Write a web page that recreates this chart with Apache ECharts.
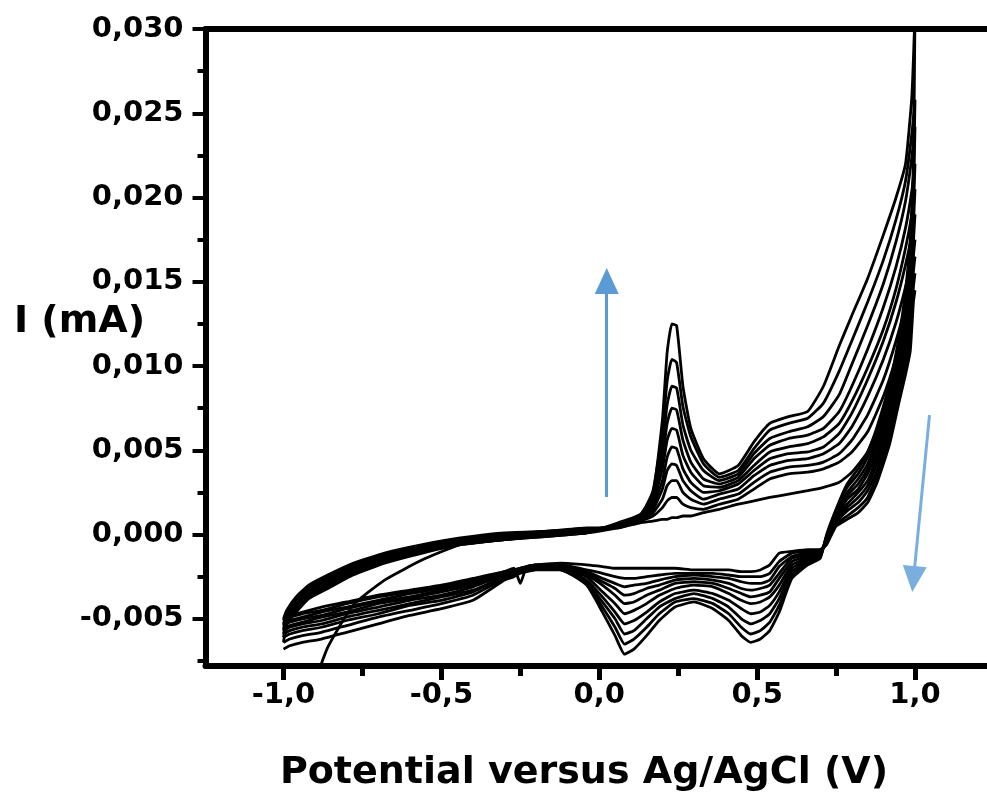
<!DOCTYPE html>
<html>
<head>
<meta charset="utf-8">
<script src="https://cdn.jsdelivr.net/npm/echarts@6.0.0/dist/echarts.min.js"></script>
<style>html,body{margin:0;padding:0;background:#fff;}#chart{width:987px;height:793px;}</style>
</head>
<body>
<div id="chart"></div>
<script>
// Potentials (V) of the forward (anodic) and reverse (cathodic) sweeps
const EF = [-1.0, -0.99, -0.96, -0.92, -0.86, -0.78, -0.68, -0.56, -0.44, -0.3, -0.16, -0.04, 0.06, 0.13, 0.17, 0.2, 0.215, 0.23, 0.245, 0.265, 0.29, 0.33, 0.38, 0.44, 0.49, 0.54, 0.6, 0.66, 0.71, 0.76, 0.8, 0.85, 0.9, 0.94, 0.97, 0.99, 1.0];
const ER = [1.0, 0.995, 0.985, 0.97, 0.95, 0.92, 0.88, 0.85, 0.82, 0.785, 0.75, 0.72, 0.7, 0.66, 0.61, 0.57, 0.54, 0.51, 0.48, 0.45, 0.41, 0.36, 0.3, 0.24, 0.19, 0.15, 0.11, 0.08, 0.05, 0.01, -0.04, -0.12, -0.2, -0.23, -0.25, -0.27, -0.3, -0.4, -0.5, -0.6, -0.7, -0.8, -0.88, -0.94, -0.98, -1.0];

// Currents (mA), one forward and one reverse sweep per cycle
const fwd0 = [null, null, null, -0.0098, -0.0067, -0.0042, -0.0027, -0.0015, -0.0006, -0.0003, -0.0001, 0.0001, 0.0004, 0.0007, 0.0008, 0.0009, 0.0009, 0.001, 0.001, 0.0011, 0.0011, 0.0013, 0.0015, 0.0018, 0.002, 0.0022, 0.0024, 0.0026, 0.0028, 0.0031, 0.0037, 0.0049, 0.0072, 0.0096, 0.0117, 0.0134, 0.0145];
const fwd1 = [-0.005, -0.0045, -0.0037, -0.003, -0.0024, -0.0017, -0.0011, -0.0006, -0.0002, 0.0001, 0.0002, 0.0004, 0.0004, 0.0008, 0.0011, 0.0016, 0.002, 0.0022, 0.0022, 0.0018, 0.0016, 0.0015, 0.0018, 0.0021, 0.0027, 0.0033, 0.0036, 0.0037, 0.0039, 0.0043, 0.0049, 0.0061, 0.0082, 0.0105, 0.0126, 0.0143, 0.0155];
const fwd2 = [-0.0051, -0.0046, -0.0038, -0.0031, -0.0025, -0.0018, -0.0012, -0.0007, -0.0003, 0, 0.0002, 0.0003, 0.0005, 0.0008, 0.0013, 0.0021, 0.0029, 0.0032, 0.0032, 0.0025, 0.0021, 0.0018, 0.0021, 0.0024, 0.0031, 0.0037, 0.004, 0.0041, 0.0043, 0.0048, 0.0056, 0.0071, 0.0092, 0.0115, 0.0136, 0.0153, 0.0165];
const fwd3 = [-0.0053, -0.0047, -0.0039, -0.0032, -0.0026, -0.0019, -0.0013, -0.0007, -0.0003, 0, 0.0002, 0.0003, 0.0005, 0.0009, 0.0015, 0.0027, 0.0038, 0.0042, 0.0041, 0.0032, 0.0026, 0.0021, 0.0024, 0.0027, 0.0035, 0.0041, 0.0044, 0.0045, 0.0048, 0.0054, 0.0064, 0.0082, 0.0104, 0.0126, 0.0147, 0.0164, 0.0175];
const fwd4 = [-0.0054, -0.0048, -0.0041, -0.0033, -0.0027, -0.002, -0.0013, -0.0008, -0.0004, -0.0001, 0.0001, 0.0003, 0.0005, 0.0009, 0.0017, 0.0032, 0.0046, 0.0052, 0.0051, 0.0039, 0.0031, 0.0025, 0.0026, 0.003, 0.0038, 0.0045, 0.0048, 0.0049, 0.0052, 0.006, 0.0072, 0.0092, 0.0115, 0.0138, 0.016, 0.0178, 0.019];
const fwd5 = [-0.0056, -0.0049, -0.0042, -0.0034, -0.0028, -0.0021, -0.0014, -0.0009, -0.0004, -0.0001, 0.0001, 0.0002, 0.0005, 0.001, 0.0019, 0.0039, 0.0056, 0.0063, 0.0062, 0.0047, 0.0037, 0.0029, 0.0028, 0.0032, 0.0041, 0.0049, 0.0052, 0.0054, 0.0058, 0.0066, 0.0079, 0.0099, 0.0122, 0.0146, 0.017, 0.019, 0.0205];
const fwd6 = [-0.0057, -0.005, -0.0043, -0.0035, -0.0029, -0.0021, -0.0015, -0.0009, -0.0005, -0.0002, 0, 0.0002, 0.0006, 0.001, 0.0021, 0.0045, 0.0066, 0.0075, 0.0074, 0.0056, 0.0043, 0.0033, 0.003, 0.0034, 0.0045, 0.0053, 0.0057, 0.0059, 0.0063, 0.0073, 0.0088, 0.011, 0.0135, 0.0159, 0.0182, 0.0204, 0.022];
const fwd7 = [-0.0059, -0.0051, -0.0044, -0.0036, -0.003, -0.0022, -0.0016, -0.001, -0.0005, -0.0002, 0, 0.0002, 0.0006, 0.0011, 0.0023, 0.0052, 0.0077, 0.0088, 0.0087, 0.0065, 0.005, 0.0038, 0.0032, 0.0036, 0.0048, 0.0057, 0.0061, 0.0064, 0.007, 0.0083, 0.0101, 0.0124, 0.0149, 0.0174, 0.0198, 0.0224, 0.0242];
const fwd8 = [-0.0061, -0.0052, -0.0045, -0.0037, -0.0031, -0.0023, -0.0016, -0.001, -0.0006, -0.0003, 0, 0.0001, 0.0006, 0.0011, 0.0026, 0.0061, 0.0091, 0.0104, 0.0102, 0.0076, 0.0058, 0.0042, 0.0034, 0.0038, 0.0051, 0.0062, 0.0066, 0.0069, 0.0078, 0.0097, 0.0115, 0.0138, 0.0163, 0.0187, 0.021, 0.0238, 0.0258];
const fwd9 = [-0.0064, -0.0053, -0.0046, -0.0038, -0.0032, -0.0024, -0.0017, -0.0011, -0.0006, -0.0003, -0.0001, 0.0001, 0.0007, 0.0012, 0.0024, 0.0068, 0.0108, 0.0125, 0.0124, 0.0088, 0.0063, 0.0045, 0.0036, 0.0041, 0.0055, 0.0066, 0.007, 0.0073, 0.0088, 0.0112, 0.013, 0.0152, 0.0178, 0.02, 0.022, 0.026, 0.031];

const rev0 = [0.0145, 0.0138, 0.0109, 0.0095, 0.0079, 0.0054, 0.0031, 0.0019, 0.0013, 0.0009, 0.0005, -0.0006, -0.0009, -0.0009, -0.001, -0.0011, -0.0018, -0.0021, -0.0022, -0.0022, -0.0021, -0.0021, -0.0021, -0.002, -0.002, -0.002, -0.002, -0.002, -0.002, -0.0019, -0.0018, -0.0017, -0.0018, -0.0019, -0.0029, -0.002, -0.0022, -0.0026, -0.003, -0.0033, -0.0036, -0.004, -0.0043, -0.0046, -0.0048, -0.005];
const rev1 = [0.0155, 0.0147, 0.0116, 0.0101, 0.0083, 0.0058, 0.0035, 0.0022, 0.0016, 0.0011, 0.0006, -0.0005, -0.0009, -0.001, -0.0011, -0.0016, -0.0023, -0.0025, -0.0025, -0.0025, -0.0024, -0.0023, -0.0023, -0.0023, -0.0024, -0.0025, -0.0026, -0.0026, -0.0025, -0.0023, -0.0021, -0.0018, -0.0018, -0.0019, -0.002, -0.0021, -0.0022, -0.0027, -0.0031, -0.0034, -0.0037, -0.0041, -0.0045, -0.0047, -0.0049, -0.0051];
const rev2 = [0.0165, 0.0156, 0.0124, 0.0106, 0.0088, 0.0062, 0.0038, 0.0026, 0.0019, 0.0014, 0.0007, -0.0005, -0.001, -0.0011, -0.0013, -0.0019, -0.0027, -0.0029, -0.0029, -0.0028, -0.0026, -0.0025, -0.0024, -0.0025, -0.0027, -0.0029, -0.003, -0.0031, -0.0029, -0.0026, -0.0022, -0.0019, -0.0018, -0.0019, -0.002, -0.0021, -0.0023, -0.0028, -0.0032, -0.0035, -0.0039, -0.0043, -0.0046, -0.0049, -0.0051, -0.0053];
const rev3 = [0.0175, 0.0165, 0.0131, 0.0112, 0.0092, 0.0066, 0.0042, 0.0029, 0.0022, 0.0016, 0.0008, -0.0004, -0.001, -0.0012, -0.0014, -0.0023, -0.003, -0.0032, -0.0033, -0.0032, -0.0029, -0.0027, -0.0026, -0.0027, -0.003, -0.0032, -0.0035, -0.0036, -0.0032, -0.0028, -0.0023, -0.0019, -0.0019, -0.002, -0.0021, -0.0022, -0.0023, -0.0029, -0.0033, -0.0037, -0.004, -0.0044, -0.0048, -0.005, -0.0052, -0.0054];
const rev4 = [0.019, 0.0174, 0.0138, 0.0117, 0.0096, 0.007, 0.0046, 0.0032, 0.0025, 0.0018, 0.0009, -0.0003, -0.0011, -0.0013, -0.0016, -0.0026, -0.0034, -0.0036, -0.0037, -0.0035, -0.0032, -0.0029, -0.0028, -0.0029, -0.0033, -0.0036, -0.004, -0.0041, -0.0036, -0.003, -0.0024, -0.0019, -0.0019, -0.002, -0.0021, -0.0022, -0.0024, -0.003, -0.0034, -0.0038, -0.0041, -0.0046, -0.0049, -0.0052, -0.0054, -0.0056];
const rev5 = [0.0205, 0.0184, 0.0146, 0.0123, 0.0101, 0.0074, 0.0049, 0.0036, 0.0027, 0.0021, 0.001, -0.0003, -0.0011, -0.0014, -0.0018, -0.003, -0.0037, -0.004, -0.0041, -0.0039, -0.0035, -0.0031, -0.003, -0.0032, -0.0036, -0.0041, -0.0045, -0.0047, -0.0041, -0.0034, -0.0025, -0.002, -0.0019, -0.002, -0.0021, -0.0022, -0.0024, -0.0031, -0.0036, -0.0039, -0.0043, -0.0047, -0.0051, -0.0053, -0.0055, -0.0057];
const rev6 = [0.022, 0.0193, 0.0153, 0.0128, 0.0105, 0.0078, 0.0053, 0.0039, 0.003, 0.0023, 0.0012, -0.0002, -0.0012, -0.0015, -0.002, -0.0034, -0.0042, -0.0046, -0.0047, -0.0044, -0.0039, -0.0035, -0.0033, -0.0035, -0.004, -0.0046, -0.0051, -0.0053, -0.0046, -0.0037, -0.0027, -0.002, -0.002, -0.0021, -0.0022, -0.0023, -0.0025, -0.0033, -0.0037, -0.0041, -0.0045, -0.0049, -0.0053, -0.0055, -0.0057, -0.0059];
const rev7 = [0.0242, 0.0202, 0.016, 0.0134, 0.0109, 0.0082, 0.0057, 0.0042, 0.0033, 0.0025, 0.0013, -0.0001, -0.0012, -0.0016, -0.0022, -0.0038, -0.0047, -0.0051, -0.0053, -0.005, -0.0043, -0.0038, -0.0035, -0.0038, -0.0043, -0.005, -0.0057, -0.0059, -0.005, -0.004, -0.0028, -0.0021, -0.002, -0.0021, -0.0022, -0.0023, -0.0025, -0.0034, -0.0039, -0.0042, -0.0047, -0.0051, -0.0055, -0.0057, -0.0059, -0.0061];
const rev8 = [0.0258, 0.0211, 0.0168, 0.0139, 0.0114, 0.0086, 0.006, 0.0046, 0.0036, 0.0028, 0.0014, -0.0001, -0.0013, -0.0017, -0.0024, -0.0042, -0.0052, -0.0057, -0.0059, -0.0055, -0.0047, -0.0041, -0.0038, -0.004, -0.0047, -0.0055, -0.0062, -0.0065, -0.0055, -0.0043, -0.0029, -0.0021, -0.002, -0.0021, -0.0022, -0.0024, -0.0026, -0.0036, -0.0041, -0.0045, -0.0049, -0.0054, -0.0058, -0.006, -0.0062, -0.0064];
const rev9 = [0.031, 0.022, 0.0175, 0.0145, 0.0118, 0.009, 0.0064, 0.0049, 0.0039, 0.003, 0.0015, 0.0, -0.0014, -0.0018, -0.0026, -0.0046, -0.0057, -0.0062, -0.0064, -0.006, -0.0051, -0.0044, -0.004, -0.0043, -0.0051, -0.006, -0.0068, -0.0071, -0.006, -0.0046, -0.003, -0.0021, -0.0021, -0.0022, -0.0023, -0.0025, -0.0027, -0.0039, -0.0044, -0.0048, -0.0053, -0.0058, -0.0062, -0.0064, -0.0066, -0.0068];

// Axis ticks
const X_MAJOR = [-1.0, -0.5, 0.0, 0.5, 1.0];
const X_MINOR = [-0.75, -0.25, 0.25, 0.75];
const Y_MAJOR = [-0.005, 0, 0.005, 0.01, 0.015, 0.02, 0.025, 0.03];
const Y_MINOR = [-0.0075, -0.0025, 0.0025, 0.0075, 0.0125, 0.0175, 0.0225, 0.0275];
const X_RANGE = [-1.247, 1.228];
const Y_RANGE = [-0.0078, 0.03];

// Blue arrows [start, end] in data coordinates
const ARROW_UP = [[0.0237, 0.00223], [0.0237, 0.01504]];
const ARROW_DOWN = [[1.0459, 0.00709], [0.9953, -0.00264]];

const X_TITLE = 'Potential versus Ag/AgCl (V)';
const Y_TITLE = 'I (mA)';

const FWD = [fwd0, fwd1, fwd2, fwd3, fwd4, fwd5, fwd6, fwd7, fwd8, fwd9];
const REV = [rev0, rev1, rev2, rev3, rev4, rev5, rev6, rev7, rev8, rev9];

const FONT = '"DejaVu Sans", "Liberation Sans", Arial, sans-serif';

const series = FWD.map((f, k) => {
  const pts = [];
  EF.forEach((e, i) => { if (f[i] !== null) pts.push([e, f[i]]); });
  ER.forEach((e, i) => { pts.push([e, REV[k][i]]); });
  return {
    type: 'line', data: pts, showSymbol: false, symbol: 'none', smooth: 0.15,
    lineStyle: { color: '#000', width: 2.8 }, silent: true, animation: false, z: 2
  };
});

series.push({
  type: 'line', data: [], silent: true, animation: false, z: 5,
  markLine: {
    silent: true, animation: false, symbol: ['none', 'triangle'], symbolSize: [24, 26],
    label: { show: false },
    lineStyle: { color: '#5b9bd5', width: 3, type: 'solid', opacity: 1 },
    emphasis: { disabled: true },
    data: [
      [{ coord: ARROW_UP[0] }, { coord: ARROW_UP[1] }],
      [{ coord: ARROW_DOWN[0], lineStyle: { color: '#7aaedf' } }, { coord: ARROW_DOWN[1] }]
    ]
  }
});

const lab = { color: '#000', fontFamily: FONT, fontWeight: 'bold', fontSize: 29 };

const option = {
  backgroundColor: '#fff',
  animation: false,
  grid: { left: 205.5, right: 0, top: 29, bottom: 127, containLabel: false },
  xAxis: [
    {
      type: 'value', min: X_RANGE[0], max: X_RANGE[1], position: 'bottom',
      axisLine: { show: true, onZero: false, lineStyle: { color: '#000', width: 6 } },
      axisTick: { show: true, customValues: X_MAJOR, length: 14, lineStyle: { color: '#000', width: 5 } },
      axisLabel: Object.assign({ customValues: X_MAJOR, margin: 15, formatter: v => v.toFixed(1).replace('.', ',') }, lab),
      splitLine: { show: false }
    },
    {
      type: 'value', min: X_RANGE[0], max: X_RANGE[1], position: 'bottom',
      axisLine: { show: false, onZero: false },
      axisTick: { show: true, customValues: X_MINOR, length: 10, lineStyle: { color: '#000', width: 5 } },
      axisLabel: { show: false }, splitLine: { show: false }
    },
    {
      type: 'value', min: X_RANGE[0], max: X_RANGE[1], position: 'top',
      axisLine: { show: true, onZero: false, lineStyle: { color: '#000', width: 6 } },
      axisTick: { show: false }, axisLabel: { show: false }, splitLine: { show: false }
    }
  ],
  yAxis: [
    {
      type: 'value', min: Y_RANGE[0], max: Y_RANGE[1], position: 'left',
      axisLine: { show: true, onZero: false, lineStyle: { color: '#000', width: 6 } },
      axisTick: { show: true, customValues: Y_MAJOR, length: 13, lineStyle: { color: '#000', width: 4 } },
      axisLabel: Object.assign({ customValues: Y_MAJOR, margin: 22, formatter: v => v.toFixed(3).replace('.', ',') }, lab),
      splitLine: { show: false }
    },
    {
      type: 'value', min: Y_RANGE[0], max: Y_RANGE[1], position: 'left',
      axisLine: { show: false, onZero: false },
      axisTick: { show: true, customValues: Y_MINOR, length: 8, lineStyle: { color: '#000', width: 4 } },
      axisLabel: { show: false }, splitLine: { show: false }
    }
  ],
  graphic: [
    {
      type: 'text', silent: true,
      style: { x: 14, y: 322, text: Y_TITLE, align: 'left', verticalAlign: 'middle', textAlign: 'left', textVerticalAlign: 'middle',
        font: 'bold 38px ' + FONT, fill: '#000' }
    },
    {
      type: 'text', silent: true,
      style: { x: 584, y: 773, text: X_TITLE, align: 'center', verticalAlign: 'middle', textAlign: 'center', textVerticalAlign: 'middle',
        font: 'bold 38px ' + FONT, fill: '#000' }
    }
  ],
  series: series
};

const chart = echarts.init(document.getElementById('chart'), null, { renderer: 'canvas', width: 987, height: 793 });
chart.setOption(option);
</script>
</body>
</html>
